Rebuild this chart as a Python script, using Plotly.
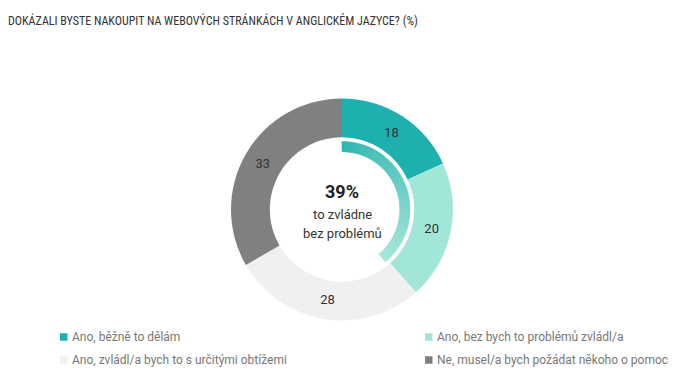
import plotly.graph_objects as go

# ---- data ----
categories = [
    "Ano, běžně to dělám",
    "Ano, bez bych to problémů zvládl/a",
    "Ano, zvládl/a bych to s určitými obtížemi",
    "Ne, musel/a bych požádat někoho o pomoc",
]
values = [18, 20, 28, 33]
colors = ["#1cb0ae", "#a2e6d9", "#f0f0f0", "#808080"]
summary_value = 39  # % who manage without problems
title_text = "DOKÁZALI BYSTE NAKOUPIT NA WEBOVÝCH STRÁNKÁCH V ANGLICKÉM JAZYCE? (%)"
center_lines = ["to zvládne", "bez problémů"]

W, H = 700, 383
FONT = "Roboto"
TITLE_FONT = "Roboto Condensed, Roboto"
OFF = 8  # page body margin


def px_x(x):
    return (x - OFF) / W


def px_y(y):
    return 1 - (y - OFF) / H


# gradient helper for the inner arc (purely decorative colouring)
def hex2rgb(h):
    h = h.lstrip("#")
    return tuple(int(h[i:i + 2], 16) for i in (0, 2, 4))


grad_start = hex2rgb("#2db6b1")
grad_end = hex2rgb("#a6e6da")
N_SEG = 60
seg_vals = [summary_value / N_SEG] * N_SEG + [100 - summary_value]
seg_cols = []
for i in range(N_SEG):
    t = i / (N_SEG - 1)
    c = tuple(round(a + (b - a) * t) for a, b in zip(grad_start, grad_end))
    seg_cols.append("rgb(%d,%d,%d)" % c)
seg_cols.append("rgba(0,0,0,0)")

fig = go.Figure()

# outer donut
cx, cy, R = 342, 209.5, 111
fig.add_trace(go.Pie(
    values=values,
    labels=categories,
    marker=dict(colors=colors, line=dict(width=0)),
    hole=0.65,
    sort=False,
    direction="clockwise",
    rotation=0,
    textinfo="value",
    textposition="inside",
    insidetextorientation="horizontal",
    textfont=dict(family=FONT, size=13, color="#333333"),
    domain=dict(x=[px_x(cx - R), px_x(cx + R)], y=[px_y(cy + R), px_y(cy - R)]),
    showlegend=False,
    hoverinfo="skip",
))

# inner gradient arc
r2 = 68
fig.add_trace(go.Pie(
    values=seg_vals,
    marker=dict(colors=seg_cols, line=dict(width=0.6, color=seg_cols)),
    hole=0.85,
    sort=False,
    direction="clockwise",
    rotation=0,
    textinfo="none",
    domain=dict(x=[px_x(cx - r2), px_x(cx + r2)], y=[px_y(cy + r2), px_y(cy - r2)]),
    showlegend=False,
    hoverinfo="skip",
))

annotations = [
    dict(text=title_text, x=px_x(6), y=px_y(20), xref="paper", yref="paper",
         xanchor="left", yanchor="middle", showarrow=False,
         font=dict(family=TITLE_FONT, size=12, color="#333333")),
    dict(text="<b>%d%%</b>" % summary_value, x=px_x(cx), y=px_y(191), xref="paper", yref="paper",
         xanchor="center", yanchor="middle", showarrow=False,
         font=dict(family=FONT, size=18, color="#222222")),
    dict(text=center_lines[0], x=px_x(cx), y=px_y(214), xref="paper", yref="paper",
         xanchor="center", yanchor="middle", showarrow=False,
         font=dict(family=FONT, size=13, color="#333333")),
    dict(text=center_lines[1], x=px_x(cx), y=px_y(234), xref="paper", yref="paper",
         xanchor="center", yanchor="middle", showarrow=False,
         font=dict(family=FONT, size=13, color="#333333")),
]

# manual legend (2 columns x 2 rows)
shapes = []
leg_pos = [(60, 337), (425, 337), (60, 360), (425, 360)]
for (lx, ly), cat, col in zip(leg_pos, categories, colors):
    shapes.append(dict(type="rect", xref="paper", yref="paper",
                       x0=px_x(lx), x1=px_x(lx + 7.5), y0=px_y(ly + 3.75), y1=px_y(ly - 3.75),
                       fillcolor=col, line=dict(width=0)))
    annotations.append(dict(text=cat, x=px_x(lx + 10), y=px_y(ly), xref="paper", yref="paper",
                            xanchor="left", yanchor="middle", showarrow=False,
                            font=dict(family=FONT, size=12, color="#777777")))

fig.update_layout(
    width=W, height=H,
    margin=dict(l=0, r=0, t=0, b=0),
    paper_bgcolor="white",
    plot_bgcolor="white",
    annotations=annotations,
    shapes=shapes,
    showlegend=False,
)

fig.write_html("out.html")
